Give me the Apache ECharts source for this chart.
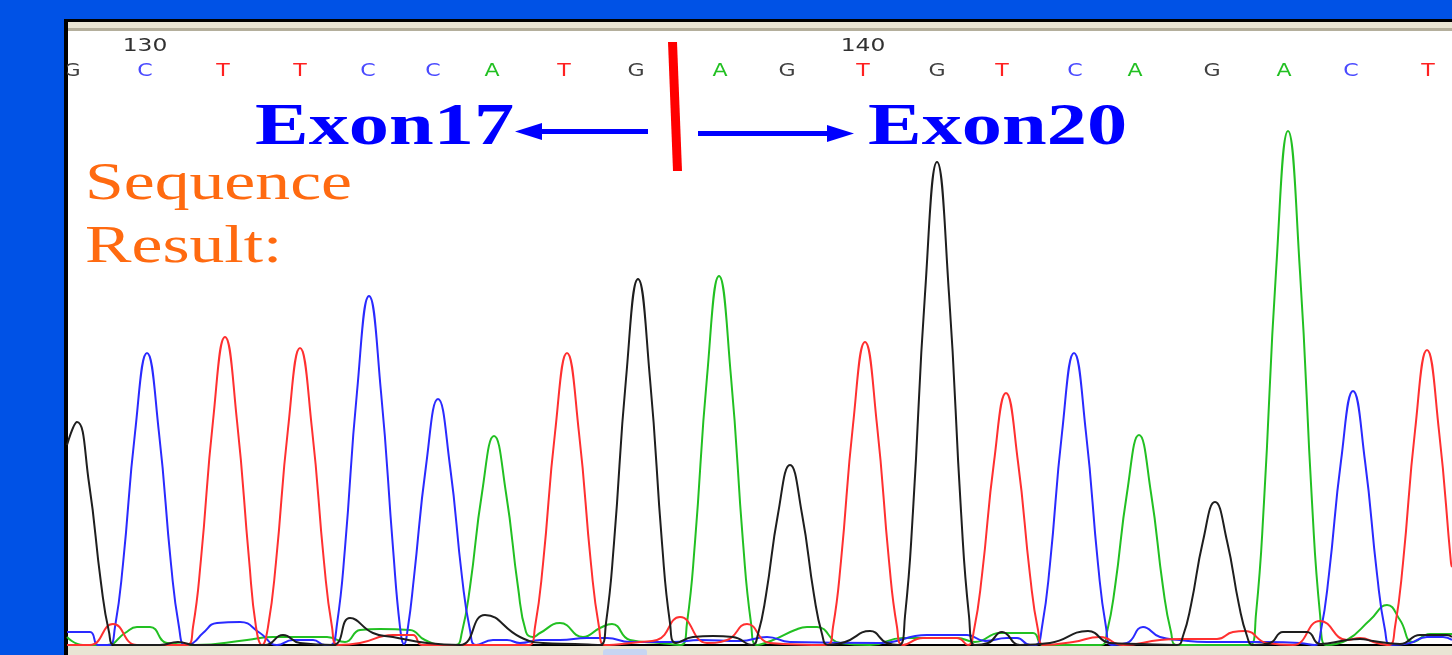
<!DOCTYPE html>
<html><head><meta charset="utf-8">
<script src="https://cdn.jsdelivr.net/npm/echarts@6/dist/echarts.min.js"></script>
<style>html,body{margin:0;padding:0;background:#0052e6;}#c{width:1452px;height:655px;}</style>
</head><body><div id="c"></div>
<script>
// Base calls and their positions (scan units)
const baseCalls = ['G','C','T','T','C','C','A','T','G','A','G','T','G','T','C','A','G','A','C','T'];
const basePos   = [72,145,223,300,368,433,492,564,636,720,787,863,937,1002,1075,1135,1212,1284,1351,1428];
// Position tick labels
const tickLabels = ['130','140'];
const tickPos    = [145, 863];
// Trace intensities [scan position, signal]
const traceG = [[67,200],[77,223],[89,162],[101,62],[109,13],[115,0],[160,0],[178,3],[195,0],[265,0],[283,10],[300,2],[333,0],[350,27],[373,12],[393,8],[427,2],[460,0],[485,30],[520,8],[543,2],[575,1],[600,0],[606,22],[614,102],[626,266],[638,366],[650,266],[662,102],[670,22],[676,2],[693,8],[713,9],[733,8],[752,0],[758,11],[766,50],[778,131],[790,180],[802,131],[814,50],[822,11],[828,0],[845,3],[870,14],[887,2],[899,0],[905,29],[913,134],[925,351],[937,483],[949,351],[961,134],[969,29],[975,0],[988,2],[1002,13],[1020,0],[1050,2],[1088,14],[1110,2],[1140,1],[1177,0],[1183,9],[1191,40],[1203,104],[1215,143],[1227,104],[1239,40],[1247,9],[1253,0],[1270,2],[1283,13],[1307,13],[1320,1],[1347,5],[1360,6],[1373,4],[1400,1],[1420,10],[1447,10],[1452,8]];
const traceC = [[67,13],[90,13],[98,0],[109,0],[115,18],[123,81],[135,212],[147,292],[159,212],[171,81],[179,18],[185,0],[193,2],[203,12],[217,22],[240,23],[260,12],[277,0],[293,5],[313,5],[325,0],[331,0],[337,21],[345,97],[357,253],[369,349],[381,253],[393,97],[400,18],[404,1],[408,18],[414,68],[426,179],[438,246],[450,179],[462,68],[470,15],[476,0],[493,5],[507,5],[520,2],[540,5],[560,5],[587,7],[607,7],[630,3],[673,3],[700,5],[740,4],[767,8],[790,3],[880,2],[927,10],[947,10],[967,10],[985,4],[1007,7],[1017,7],[1030,0],[1036,0],[1042,18],[1050,81],[1062,212],[1074,292],[1086,212],[1098,81],[1106,18],[1112,0],[1127,2],[1143,18],[1160,8],[1180,5],[1207,3],[1267,3],[1300,2],[1315,0],[1321,15],[1329,71],[1341,184],[1353,254],[1365,184],[1377,71],[1385,15],[1391,0],[1410,2],[1427,8],[1443,8],[1452,5]];
const traceT = [[67,0],[90,0],[113,21],[137,0],[187,0],[193,18],[201,86],[213,224],[225,308],[237,224],[249,86],[256,18],[262,0],[268,18],[276,83],[288,216],[300,297],[312,216],[324,83],[332,18],[338,0],[360,2],[393,10],[413,10],[422,0],[529,0],[535,18],[543,81],[555,212],[567,292],[579,212],[591,81],[599,18],[605,0],[640,3],[657,5],[680,28],[707,2],[727,5],[747,21],[770,2],[827,0],[833,18],[841,84],[853,220],[865,303],[877,220],[889,84],[897,18],[903,0],[923,7],[940,7],[957,7],[968,0],[974,15],[982,70],[994,183],[1006,252],[1018,183],[1030,70],[1038,15],[1044,0],[1073,3],[1100,8],[1123,0],[1160,5],[1180,6],[1217,6],[1233,13],[1245,14],[1267,2],[1293,0],[1320,24],[1347,5],[1360,7],[1377,2],[1389,0],[1395,18],[1403,82],[1415,214],[1427,295],[1439,214],[1451,82],[1452,78]];
const traceA = [[67,8],[83,0],[107,0],[125,12],[137,18],[150,18],[167,2],[195,0],[247,5],[273,8],[327,8],[345,3],[360,15],[380,16],[410,15],[425,5],[445,0],[456,0],[462,13],[470,58],[482,152],[494,209],[506,152],[518,58],[526,13],[533,8],[540,12],[560,22],[583,8],[600,17],[612,21],[630,5],[660,2],[681,0],[687,22],[695,103],[707,268],[719,369],[731,268],[743,103],[751,22],[757,0],[773,5],[795,15],[807,18],[817,18],[840,2],[870,0],[903,7],[957,7],[975,3],[1000,12],[1033,12],[1043,0],[1101,0],[1107,13],[1115,58],[1127,152],[1139,210],[1151,152],[1163,58],[1171,13],[1177,0],[1250,0],[1256,31],[1264,143],[1276,373],[1288,514],[1300,373],[1312,143],[1320,31],[1326,0],[1347,5],[1370,25],[1387,40],[1400,25],[1413,3],[1430,11],[1452,11]];

const baseColor = {A:'#22c022', C:'#4a4aff', G:'#404040', T:'#ff2020'};
const LETTER_ROW = 573, NUMBER_ROW = 599;

const chart = echarts.init(document.getElementById('c'), null, {renderer:'canvas'});

function lineSeries(name, data, color){
  return {name, type:'line', data, smooth:0.5, showSymbol:false, symbol:'none',
    lineStyle:{color, width:2}, clip:true, z:3, animation:false};
}
function textSeries(name, items, pos, row, colorFn, font){
  return {name, type:'custom', clip:true, z:5, animation:false,
    data: items.map((t,i)=>[pos[i], row]),
    renderItem:(params, api)=>{
      const p = api.coord([api.value(0), api.value(1)]);
      const t = items[params.dataIndex];
      return {type:'text', x:p[0], y:p[1], scaleX:1.3,
        style:{text:t, fill:colorFn(t), font, align:'center', verticalAlign:'middle'}};
    }};
}

chart.setOption({
  backgroundColor:'#0052e6',
  animation:false,
  grid:{left:67, right:0, top:32, bottom:10},
  xAxis:{type:'value', min:67, max:1452, axisLine:{show:true, onZero:false, lineStyle:{color:'#000', width:2}},
    axisTick:{show:false}, axisLabel:{show:false}, splitLine:{show:false}},
  yAxis:{type:'value', min:0, max:613, show:false, splitLine:{show:false}},
  graphic:[
    {type:'rect', z:-10, shape:{x:64, y:19, width:1390, height:640}, style:{fill:'#000'}},
    {type:'rect', z:-9, shape:{x:68, y:22, width:1390, height:633}, style:{fill:'#e9e5d4'}},
    {type:'rect', z:-9, shape:{x:68, y:28, width:1390, height:3}, style:{fill:'#b4af9c'}},
    {type:'rect', z:-8, shape:{x:68, y:31, width:1390, height:615}, style:{fill:'#ffffff'}},
    {type:'rect', z:-7, shape:{x:603, y:649, width:44, height:8, r:3}, style:{fill:'#c7d5f2'}},
    {type:'text', z:50, x:255, y:128, scaleX:1.34, style:{text:'Exon17', fill:'#0000ff', font:'bold 60px "Liberation Serif"', align:'left', verticalAlign:'middle'}},
    {type:'text', z:50, x:868, y:128, scaleX:1.34, style:{text:'Exon20', fill:'#0000ff', font:'bold 60px "Liberation Serif"', align:'left', verticalAlign:'middle'}},
    {type:'text', z:50, x:85, y:185, scaleX:1.34, style:{text:'Sequence', fill:'#ff6a10', font:'52px "Liberation Serif"', align:'left', verticalAlign:'middle'}},
    {type:'text', z:50, x:85, y:248, scaleX:1.34, style:{text:'Result:', fill:'#ff6a10', font:'52px "Liberation Serif"', align:'left', verticalAlign:'middle'}},
    {type:'rect', z:50, shape:{x:538, y:129, width:110, height:5}, style:{fill:'#0000ff'}},
    {type:'polygon', z:50, shape:{points:[[515,131.5],[542,123],[542,140]]}, style:{fill:'#0000ff'}},
    {type:'rect', z:50, shape:{x:698, y:131, width:134, height:5}, style:{fill:'#0000ff'}},
    {type:'polygon', z:50, shape:{points:[[854,133.5],[827,125],[827,142]]}, style:{fill:'#0000ff'}},
    {type:'polygon', z:50, shape:{points:[[668,42],[677,42],[682,171],[673,171]]}, style:{fill:'#ff0000'}}
  ],
  series:[
    lineSeries('A', traceA, '#22c022'),
    lineSeries('C', traceC, '#2a2aff'),
    lineSeries('T', traceT, '#ff3030'),
    lineSeries('G', traceG, '#1e1e1e'),
    textSeries('bases', baseCalls, basePos, LETTER_ROW, t=>baseColor[t], '17px "DejaVu Sans"'),
    textSeries('ticks', tickLabels, tickPos, NUMBER_ROW, t=>'#303030', '18px "DejaVu Sans"')
  ]
});
</script></body></html>
